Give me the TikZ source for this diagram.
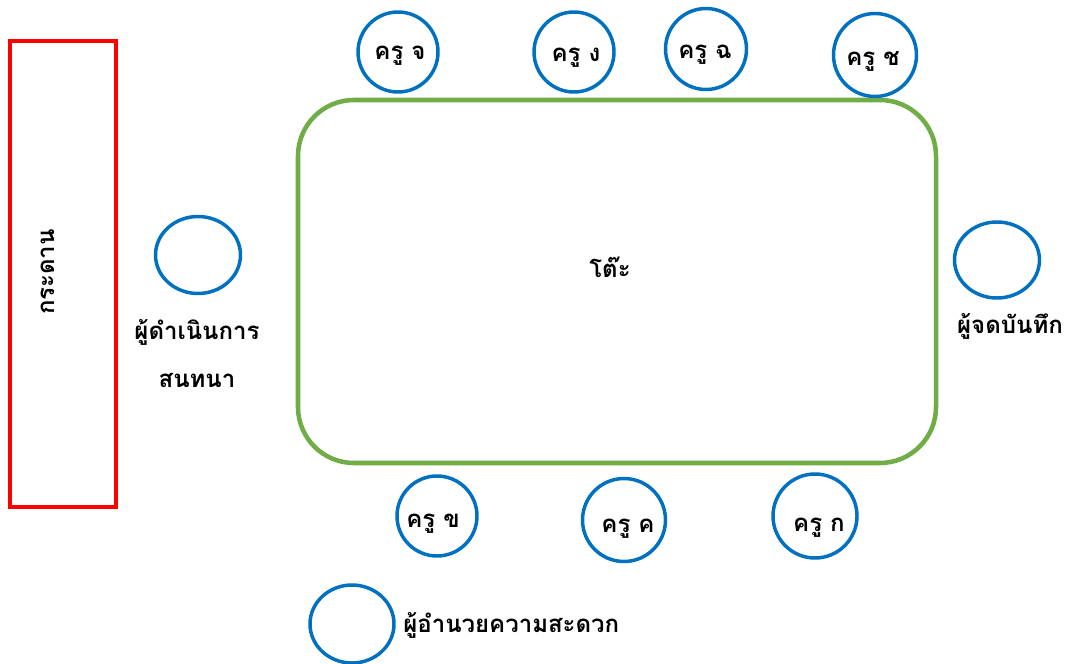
\documentclass[tikz,border=0pt]{standalone}
\usepackage{fontspec}
\usetikzlibrary{shapes.geometric}
\newfontfamily\thaifont[Script=Thai]{Loma}
\definecolor{boardred}{RGB}{255,0,0}
\definecolor{tablegreen}{RGB}{112,173,71}
\definecolor{seatblue}{RGB}{0,112,192}
\begin{document}
\begin{tikzpicture}[x=0.75pt,y=-0.75pt,
  seat/.style={draw=seatblue,line width=2.6pt,circle,minimum size=#1*0.75pt,inner sep=0pt},
  oval/.style={draw=seatblue,line width=2.6pt,ellipse,inner sep=0pt},
  lbl/.style={font=\thaifont\bfseries\fontsize{18}{22}\selectfont,inner sep=0pt,text=black}]
\useasboundingbox (0,0) rectangle (1069,663);
\fill[white] (0,0) rectangle (1069,663);
% board
\node[draw=boardred,line width=2.6pt,minimum width=106*0.75pt,minimum height=466*0.75pt,inner sep=0pt] (board) at (63,274) {};
\node[lbl,rotate=90] (boardtxt) at (48,272) {กระดาน};
% table
\draw[tablegreen,line width=3.4pt,rounded corners=42pt] (298,100) rectangle (936,463);
\node[lbl] (tabletxt) at (610,267) {โต๊ะ};
% top teachers
\node[seat=80] (tj) at (398,52) {};
\node[lbl] (tjtxt) at (400,56) {ครู จ};
\node[seat=80] (tng) at (574,52) {};
\node[lbl] (tngtxt) at (576,58) {ครู ง};
\node[seat=81] (tch) at (706,49) {};
\node[lbl] (tchtxt) at (705,55) {ครู ฉ};
\node[seat=83] (tcc) at (875,55) {};
\node[lbl] (tcctxt) at (873,61) {ครู ช};
% moderator
\node[oval,minimum width=85*0.75pt,minimum height=77*0.75pt] (mod) at (198,255) {};
\node[lbl] (modtxt1) at (197,332) {ผู้ดำเนินการ};
\node[lbl] (modtxt2) at (197,380) {สนทนา};
% recorder
\node[oval,minimum width=85*0.75pt,minimum height=76*0.75pt] (rec) at (997,260) {};
\node[lbl] (rectxt) at (1010,326) {ผู้จดบันทึก};
% bottom teachers
\node[seat=80] (tk) at (437,516) {};
\node[lbl] (tktxt) at (433,524) {ครู ข};
\node[seat=83] (tkk) at (624,520) {};
\node[lbl] (tkktxt) at (628,529) {ครู ค};
\node[seat=84] (tko) at (815,516) {};
\node[lbl] (tkotxt) at (819,528) {ครู ก};
% facilitator
\node[oval,minimum width=84*0.75pt,minimum height=78*0.75pt] (fac) at (352,624) {};
\node[lbl,anchor=west] (factxt) at (403,625) {ผู้อำนวยความสะดวก};
\end{tikzpicture}
\end{document}
